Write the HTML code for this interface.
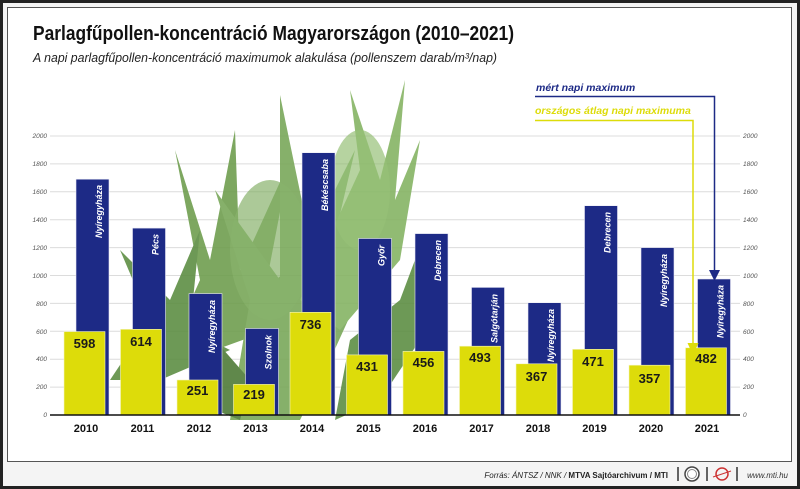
<!DOCTYPE html>
<html><head><meta charset="utf-8"><style>
html,body{margin:0;padding:0;background:#fff}
svg{display:block;font-family:"Liberation Sans",sans-serif}
</style></head><body>
<svg width="800" height="489" viewBox="0 0 800 489" xmlns="http://www.w3.org/2000/svg">
<rect x="0" y="0" width="800" height="489" fill="#f4f4f4"/>
<rect x="1.5" y="1.5" width="797" height="486" fill="none" stroke="#222" stroke-width="3"/>
<rect x="7.5" y="7.5" width="784" height="454" fill="#fff" stroke="#555" stroke-width="1"/>
<text x="33" y="40" font-size="20" font-weight="bold" fill="#111" textLength="481" lengthAdjust="spacingAndGlyphs">Parlagfűpollen-koncentráció Magyarországon (2010–2021)</text>
<text x="33" y="62" font-size="12.5" font-style="italic" fill="#222" textLength="464" lengthAdjust="spacingAndGlyphs">A napi parlagfűpollen-koncentráció maximumok alakulása (pollenszem darab/m³/nap)</text>

<!-- grid -->
<g stroke="#dcdcdc" stroke-width="1">
<line x1="50" y1="136" x2="740" y2="136"/><line x1="50" y1="163.9" x2="740" y2="163.9"/>
<line x1="50" y1="191.8" x2="740" y2="191.8"/><line x1="50" y1="219.7" x2="740" y2="219.7"/>
<line x1="50" y1="247.6" x2="740" y2="247.6"/><line x1="50" y1="275.5" x2="740" y2="275.5"/>
<line x1="50" y1="303.4" x2="740" y2="303.4"/><line x1="50" y1="331.3" x2="740" y2="331.3"/>
<line x1="50" y1="359.2" x2="740" y2="359.2"/><line x1="50" y1="387.1" x2="740" y2="387.1"/>
</g>

<!-- plant -->
<g fill="#6f9e4f" opacity="0.9">
<path d="M160 370 L200 280 L175 150 L210 260 L235 130 L240 270 L290 160 L265 290 L320 240 L270 330 Z"/>
<path d="M230 420 L250 300 L215 190 L280 280 L280 95 L310 240 L355 150 L320 300 L380 250 L330 360 L300 420 Z" fill="#7aa85a"/>
<path d="M300 300 L360 170 L350 90 L380 180 L405 80 L395 200 L420 140 L400 260 L340 330 Z" fill="#86b464"/>
<path d="M110 380 L150 320 L120 250 L170 300 L200 230 L190 330 L230 350 L160 380 Z" fill="#5e8e44"/>
<path d="M335 420 L350 340 L400 300 L415 260 L420 340 L380 400 Z" fill="#5e8e44"/>
<path d="M190 400 L215 340 L250 380 L240 420 Z" fill="#4f7c38"/>
<ellipse cx="270" cy="250" rx="40" ry="70" fill="#7cab5c" opacity="0.7"/>
<ellipse cx="360" cy="190" rx="30" ry="60" fill="#8cbb6a" opacity="0.7"/>
</g>

<g font-size="6.5" font-style="italic" fill="#555">
<g text-anchor="end">
<text x="47" y="138">2000</text><text x="47" y="166">1800</text><text x="47" y="194">1600</text><text x="47" y="222">1400</text><text x="47" y="250">1200</text><text x="47" y="278">1000</text><text x="47" y="306">800</text><text x="47" y="334">600</text><text x="47" y="361">400</text><text x="47" y="389">200</text><text x="47" y="417">0</text>
</g>
<text x="743" y="138">2000</text><text x="743" y="166">1800</text><text x="743" y="194">1600</text><text x="743" y="222">1400</text><text x="743" y="250">1200</text><text x="743" y="278">1000</text><text x="743" y="306">800</text><text x="743" y="334">600</text><text x="743" y="361">400</text><text x="743" y="389">200</text><text x="743" y="417">0</text>
</g>

<!-- blue bars -->
<g fill="#1d2a86" stroke="#e8e8f4" stroke-width="0.6">
<rect x="76" y="179.2" width="33" height="235.8"/>
<rect x="132.5" y="228.1" width="33" height="186.9"/>
<rect x="189" y="293.6" width="33" height="121.4"/>
<rect x="245.5" y="328.5" width="33" height="86.5"/>
<rect x="302" y="152.7" width="33" height="262.3"/>
<rect x="358.5" y="238.5" width="33" height="176.5"/>
<rect x="415" y="233.6" width="33" height="181.4"/>
<rect x="471.5" y="287.4" width="33" height="127.6"/>
<rect x="528" y="302.7" width="33" height="112.3"/>
<rect x="584.5" y="205.7" width="33" height="209.3"/>
<rect x="641" y="247.6" width="33" height="167.4"/>
<rect x="697.5" y="279" width="33" height="136"/>
</g>
<!-- city labels -->
<g font-size="9" font-style="italic" font-weight="bold" fill="#fff" text-anchor="end">
<text transform="translate(102,185) rotate(-90)">Nyíregyháza</text>
<text transform="translate(158.5,234) rotate(-90)">Pécs</text>
<text transform="translate(215,300) rotate(-90)">Nyíregyháza</text>
<text transform="translate(271.5,335) rotate(-90)">Szolnok</text>
<text transform="translate(328,159) rotate(-90)">Békéscsaba</text>
<text transform="translate(384.5,245) rotate(-90)">Győr</text>
<text transform="translate(441,240) rotate(-90)">Debrecen</text>
<text transform="translate(497.5,294) rotate(-90)">Salgótarján</text>
<text transform="translate(554,309) rotate(-90)">Nyíregyháza</text>
<text transform="translate(610.5,212) rotate(-90)">Debrecen</text>
<text transform="translate(667,254) rotate(-90)">Nyíregyháza</text>
<text transform="translate(723.5,285) rotate(-90)">Nyíregyháza</text>
</g>

<!-- yellow bars -->
<g fill="#dddc0a" stroke="#f4f4c0" stroke-width="0.6">
<rect x="64" y="331.6" width="41" height="83.4"/>
<rect x="120.5" y="329.3" width="41" height="85.7"/>
<rect x="177" y="380" width="41" height="35"/>
<rect x="233.5" y="384.4" width="41" height="30.6"/>
<rect x="290" y="312.3" width="41" height="102.7"/>
<rect x="346.5" y="354.9" width="41" height="60.1"/>
<rect x="403" y="351.4" width="41" height="63.6"/>
<rect x="459.5" y="346.2" width="41" height="68.8"/>
<rect x="516" y="363.8" width="41" height="51.2"/>
<rect x="572.5" y="349.3" width="41" height="65.7"/>
<rect x="629" y="365.2" width="41" height="49.8"/>
<rect x="685.5" y="347.8" width="41" height="67.2"/>
</g>
<g font-size="13" font-weight="bold" fill="#1a1a1a" text-anchor="middle">
<text x="84.5" y="348">598</text><text x="141" y="346">614</text><text x="197.5" y="395">251</text><text x="254" y="399">219</text>
<text x="310.5" y="329">736</text><text x="367" y="371">431</text><text x="423.5" y="367">456</text><text x="480" y="362">493</text>
<text x="536.5" y="381">367</text><text x="593" y="366">471</text><text x="649.5" y="383">357</text><text x="706" y="363">482</text>
</g>

<line x1="50" y1="415" x2="740" y2="415" stroke="#111" stroke-width="1.5"/>
<g font-size="11" font-weight="bold" fill="#111" text-anchor="middle">
<text x="86" y="432">2010</text><text x="142.5" y="432">2011</text><text x="199" y="432">2012</text><text x="255.5" y="432">2013</text>
<text x="312" y="432">2014</text><text x="368.5" y="432">2015</text><text x="425" y="432">2016</text><text x="481.5" y="432">2017</text>
<text x="538" y="432">2018</text><text x="594.5" y="432">2019</text><text x="651" y="432">2020</text><text x="707" y="432">2021</text>
</g>

<!-- legend arrows -->
<text x="536" y="91" font-size="10.5" font-style="italic" font-weight="bold" fill="#1d2a86">mért napi maximum</text>
<polyline points="535,96.5 714.5,96.5 714.5,272" fill="none" stroke="#1d2a86" stroke-width="1.5"/>
<polygon points="709,270 720,270 714.5,281" fill="#1d2a86"/>
<text x="535" y="114" font-size="10.5" font-style="italic" font-weight="bold" fill="#dddc0a">országos átlag napi maximuma</text>
<polyline points="535,120.5 693,120.5 693,345" fill="none" stroke="#dddc0a" stroke-width="1.5"/>
<polygon points="687.5,343 698.5,343 693,355" fill="#dddc0a"/>

<!-- footer -->
<text x="668" y="478" font-size="8" font-style="italic" fill="#222" text-anchor="end">Forrás: ÁNTSZ / NNK / <tspan font-weight="bold" font-style="normal">MTVA Sajtóarchivum / MTI</tspan></text>
<line x1="678" y1="467" x2="678" y2="481" stroke="#333" stroke-width="1.5"/>
<circle cx="692" cy="474" r="7" fill="#fff" stroke="#444" stroke-width="1.5"/>
<circle cx="692" cy="474" r="4.5" fill="none" stroke="#888" stroke-width="1"/>
<line x1="707" y1="467" x2="707" y2="481" stroke="#333" stroke-width="1.5"/>
<circle cx="722" cy="474" r="6" fill="none" stroke="#c33" stroke-width="1.5"/>
<line x1="713" y1="477" x2="731" y2="471" stroke="#c33" stroke-width="1"/>
<line x1="737" y1="467" x2="737" y2="481" stroke="#333" stroke-width="1.5"/>
<text x="788" y="478" font-size="8" font-style="italic" fill="#333" text-anchor="end">www.mti.hu</text>
</svg>
</body></html>
